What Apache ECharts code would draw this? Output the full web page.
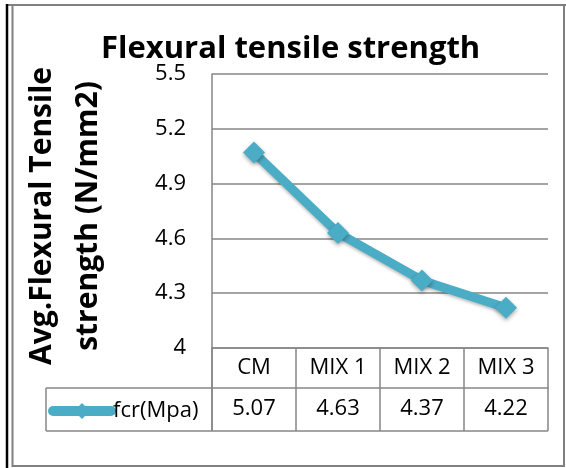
<!DOCTYPE html>
<html>
<head>
<meta charset="utf-8">
<script src="https://cdn.jsdelivr.net/npm/echarts@6/dist/echarts.min.js"></script>
<style>
html,body{margin:0;padding:0;background:#fff;}
#chart{width:566px;height:468px;}
</style>
</head>
<body>
<div id="chart"></div>
<script>
const chartTitle = 'Flexural tensile strength';
const yAxisTitle = 'Avg.Flexural Tensile\nstrength (N/mm2)';
const seriesName = 'fcr(Mpa)';
const categories = ['CM', 'MIX 1', 'MIX 2', 'MIX 3'];
const fcrValues = [5.07, 4.63, 4.37, 4.22];
const yMin = 4, yMax = 5.5, yStep = 0.3;

const gridCol = '#868686';
const lineCol = '#4BACC6';
const font = 'Open Sans';

const chart = echarts.init(document.getElementById('chart'), null, {renderer: 'canvas'});
chart.setOption({
  backgroundColor: '#fff',
  animation: false,
  title: {
    text: chartTitle,
    left: 101,
    top: 32,
    padding: 0,
    textStyle: {fontFamily: font, fontWeight: 'bold', fontSize: 31, color: '#000', lineHeight: 34}
  },
  legend: {
    data: [seriesName],
    left: 48,
    top: 400,
    padding: 0,
    itemWidth: 58,
    itemHeight: 20,
    itemGap: 4,
    lineStyle: {width: 10, cap: 'round'},
    textStyle: {fontFamily: font, fontSize: 22, color: '#000', padding: [0, 0, 0, -3]}
  },
  grid: {left: 212, right: 18, top: 74, bottom: 120, containLabel: false},
  xAxis: [
    {
      type: 'category',
      data: categories,
      position: 'bottom',
      axisLine: {show: true, lineStyle: {color: gridCol, width: 1.5}},
      axisTick: {show: true, length: 40, interval: 0, lineStyle: {color: gridCol, width: 1.5}},
      axisLabel: {margin: 9, fontFamily: font, fontSize: 22, color: '#000', lineHeight: 22},
      splitLine: {show: false}
    },
    {
      type: 'category',
      data: categories,
      position: 'bottom',
      offset: 40,
      axisLine: {show: true, lineStyle: {color: gridCol, width: 1.5}},
      axisTick: {show: true, length: 43, interval: 0, lineStyle: {color: gridCol, width: 1.5}},
      axisLabel: {
        margin: 10, fontFamily: font, fontSize: 22, color: '#000', lineHeight: 22,
        formatter: (v, i) => fcrValues[i].toFixed(2)
      },
      splitLine: {show: false}
    }
  ],
  yAxis: {
    type: 'value',
    min: yMin,
    max: yMax,
    interval: yStep,
    name: yAxisTitle,
    nameLocation: 'middle',
    nameRotate: 90,
    nameGap: 101,
    nameTextStyle: {fontFamily: font, fontWeight: 'bold', fontSize: 30, color: '#000', lineHeight: 46, padding: [0, 10, 0, 0]},
    axisLine: {show: true, lineStyle: {color: gridCol, width: 1.5}},
    axisTick: {show: false},
    axisLabel: {margin: 26, fontFamily: font, fontSize: 22, color: '#000'},
    splitLine: {show: true, lineStyle: {color: gridCol, width: 1.5}}
  },
  series: [{
    name: seriesName,
    type: 'line',
    xAxisIndex: 0,
    data: fcrValues,
    symbol: 'diamond',
    symbolSize: 22,
    color: lineCol,
    lineStyle: {width: 9, color: lineCol, shadowBlur: 3, shadowColor: 'rgba(0,0,0,0.25)', shadowOffsetY: 2},
    itemStyle: {color: lineCol, shadowBlur: 4, shadowColor: 'rgba(0,0,0,0.35)', shadowOffsetY: 2}
  }],
  graphic: [
    {type: 'line', shape: {x1: 7, y1: 5, x2: 566, y2: 5}, style: {stroke: '#555', lineWidth: 1.5}, silent: true},
    {type: 'line', shape: {x1: 7, y1: 4, x2: 7, y2: 468}, style: {stroke: '#000', lineWidth: 2.5}, silent: true},
    {type: 'rect', shape: {x: 12.5, y: 5, width: 551.5, height: 461}, style: {fill: null, stroke: '#808080', lineWidth: 2}, silent: true},
    {type: 'line', shape: {x1: 46, y1: 388, x2: 212, y2: 388}, style: {stroke: gridCol, lineWidth: 1.5}, silent: true},
    {type: 'line', shape: {x1: 46, y1: 431, x2: 548, y2: 431}, style: {stroke: gridCol, lineWidth: 1.5}, silent: true},
    {type: 'line', shape: {x1: 46, y1: 388, x2: 46, y2: 431}, style: {stroke: gridCol, lineWidth: 1.5}, silent: true},
    {type: 'line', shape: {x1: 212, y1: 348, x2: 212, y2: 431}, style: {stroke: gridCol, lineWidth: 1.5}, silent: true}
  ]
});
</script>
</body>
</html>
